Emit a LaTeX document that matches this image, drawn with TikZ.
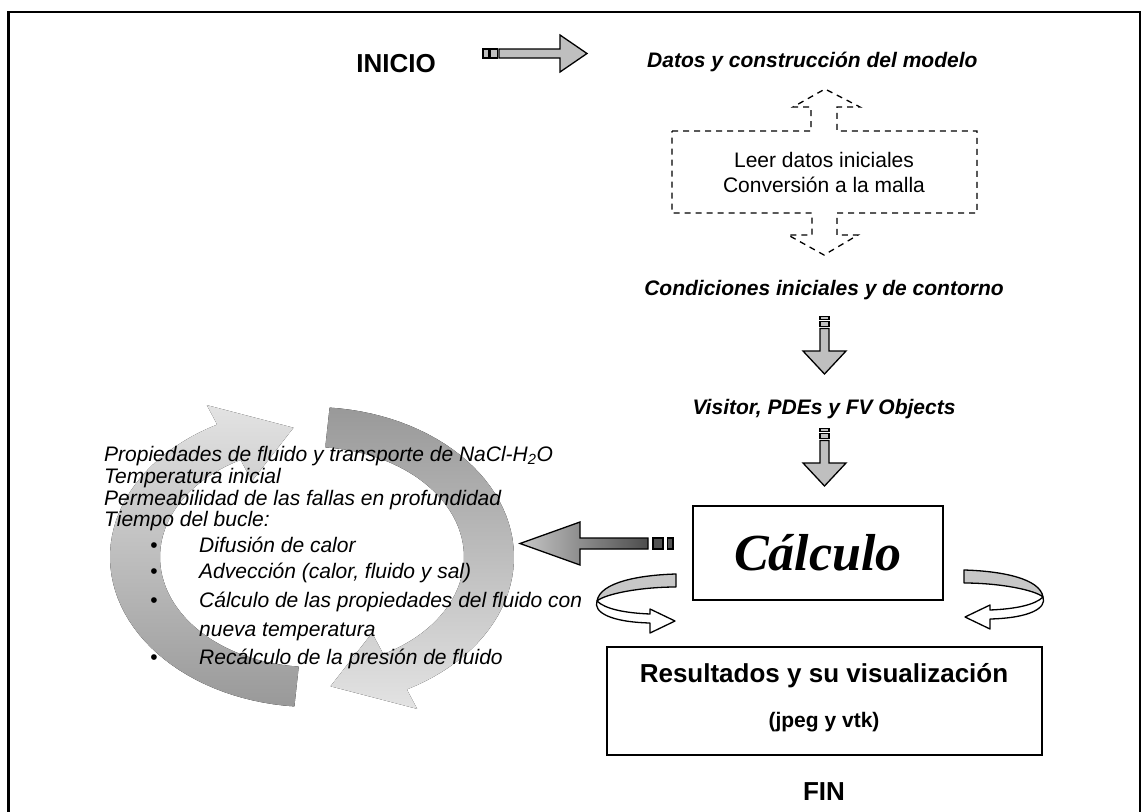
\documentclass[tikz,border=0pt]{standalone}
\usepackage{fontspec}
\setmainfont{Liberation Sans}
\newfontfamily\timesfont{Liberation Serif}
\newcommand\setfs[1]{\fontsize{#1}{#1}\selectfont}
\begin{document}
\begin{tikzpicture}[x=1pt,y=-1pt,
  blockarrow/.style={draw=black, line width=1.3pt, fill=black!25, line join=miter},
  curl/.style={draw=black, line width=1.3pt, line join=round},
  capt/.style={font=\setfs{21}\bfseries\itshape, inner sep=0pt, anchor=base},
  plain/.style={font=\setfs{21}, inner sep=0pt, anchor=base},
  title/.style={font=\setfs{26}\bfseries, inner sep=0pt, anchor=base},
  lefttxt/.style={font=\setfs{21}\itshape, inner sep=0pt, anchor=base west},
  dot/.style={font=\setfs{21}, inner sep=0pt, anchor=base},
  box/.style={draw=black, line width=1.7pt, inner sep=0pt}
]
\useasboundingbox (0,0) rectangle (1148,811);

% outer frame
\begin{scope}
  \clip (0,0) rectangle (1148,811);
  \draw[line width=2.6pt] (8.3,12) rectangle (1140,830);
\end{scope}

% ---------------- circular arrows behind the parameter list
\def\cx{312}
\def\cy{557}
% upper-right to bottom arrow
\fill[top color=black!40, bottom color=black!11]
  plot[domain=-85:62, samples=50] ({\cx+202*cos(\x)},{\cy+150*sin(\x)})
  -- ({\cx+224*cos(62)},{\cy+172*sin(62)})
  -- ({\cx+177*cos(84)},{\cy+130*sin(84)})
  -- ({\cx+128*cos(62)},{\cy+86*sin(62)})
  -- plot[domain=62:-85, samples=50] ({\cx+152*cos(\x)},{\cy+110*sin(\x)})
  -- cycle;
% bottom-left to top arrow
\fill[top color=black!11, bottom color=black!40]
  plot[domain=95:242, samples=50] ({\cx+202*cos(\x)},{\cy+150*sin(\x)})
  -- ({\cx+224*cos(242)},{\cy+172*sin(242)})
  -- ({\cx+177*cos(264)},{\cy+130*sin(264)})
  -- ({\cx+128*cos(242)},{\cy+86*sin(242)})
  -- plot[domain=242:95, samples=50] ({\cx+152*cos(\x)},{\cy+110*sin(\x)})
  -- cycle;

% ---------------- parameter list
\node[lefttxt] (p1) at (104,461) {Propiedades de fluido y transporte de NaCl-H\textsubscript{2}O};
\node[lefttxt] (p2) at (104,483) {Temperatura inicial};
\node[lefttxt] (p3) at (104,505) {Permeabilidad de las fallas en profundidad};
\node[lefttxt] (p4) at (104,526) {Tiempo del bucle:};
\node[dot] (d1) at (154,552) {•};
\node[lefttxt] (i1) at (199,552) {Difusión de calor};
\node[dot] (d2) at (154,578) {•};
\node[lefttxt] (i2) at (199,578) {Advección (calor, fluido y sal)};
\node[dot] (d3) at (154,607) {•};
\node[lefttxt] (i3) at (199,607) {Cálculo de las propiedades del fluido con};
\node[lefttxt] (i3b) at (199,636) {nueva temperatura};
\node[dot] (d4) at (154,664) {•};
\node[lefttxt] (i4) at (199,664) {Recálculo de la presión de fluido};

% ---------------- start
\node[title] (inicio) at (396,72) {INICIO};
\node[capt, anchor=base west] (datos) at (647,67) {Datos y construcción del modelo};
% arrow from INICIO
\draw[blockarrow] (483,49) rectangle (488.5,58);
\draw[blockarrow] (490,49) rectangle (497.5,58);
\draw[blockarrow] (499,49) -- (560,49) -- (560,35) -- (587,53.5) -- (560,72) -- (560,58) -- (499,58) -- cycle;

% dashed model box with its two arrows
\draw[line width=1.3pt, dash pattern=on 6pt off 5pt]
  (672,131) -- (811,131) -- (811,107) -- (793,107) -- (825,89) -- (860,107)
  -- (837,107) -- (837,131) -- (977,131) -- (977,213) -- (837,213) -- (837,235)
  -- (858,235) -- (824,255) -- (788,235) -- (812,235) -- (812,213) -- (672,213) -- cycle;
\node[plain] (leer) at (824,167) {Leer datos iniciales};
\node[plain] (conv) at (824,192) {Conversión a la malla};

\node[capt] (cond) at (824,295) {Condiciones iniciales y de contorno};

% down arrow 1
\draw[blockarrow] (820,316.5) rectangle (829,319.5);
\draw[blockarrow] (820,321.5) rectangle (829,326.5);
\draw[blockarrow] (820,328.5) -- (829,328.5) -- (829,351) -- (846,351) -- (824.5,374)
  -- (803,351) -- (820,351) -- cycle;

\node[capt] (visitor) at (824,414) {Visitor, PDEs y FV Objects};

% down arrow 2
\draw[blockarrow] (820,428.5) rectangle (829,431.5);
\draw[blockarrow] (820,433.5) rectangle (829,438.5);
\draw[blockarrow] (820,440.5) -- (829,440.5) -- (829,463) -- (846,463) -- (824.5,486)
  -- (803,463) -- (820,463) -- cycle;

% ---------------- computation box
\node[box, minimum width=250pt, minimum height=94pt] (calc) at (818,553) {};
\node[font=\timesfont\bfseries\itshape\setfs{52}, inner sep=0pt] (calctxt) at (calc.center) {Cálculo};

% shaded arrow towards the loop
\draw[line width=1.3pt, fill=black!68] (653,538) rectangle (663,549);
\draw[line width=1.3pt, fill=black!68] (667.5,538) rectangle (673,549);
\draw[line width=1.3pt, left color=black!22, right color=black!70, line join=miter]
  (648,538) -- (580,538) -- (580,522) -- (520,543.5) -- (580,565) -- (580,549) -- (648,549) -- cycle;

% curled arrows below the computation box
\newcommand\curlshape{%
  \draw[curl, fill=black!22] (964,570) .. controls (1000,571) and (1040,578) .. (1043,597)
    .. controls (1035,590) and (1000,583) .. (964,583) -- cycle;
  \draw[curl, fill=white] (1043,597) .. controls (1047,608) and (1030,618) .. (990,619)
    -- (990,629) -- (965,617) -- (990,605) -- (990,610)
    .. controls (1015,609) and (1035,605) .. (1043,597) -- cycle;}
\curlshape
\begin{scope}[shift={(1640,4)}, xscale=-1]
  \curlshape
\end{scope}

% ---------------- results
\node[box, minimum width=435pt, minimum height=108pt] (res) at (824.5,701) {};
\node[font=\setfs{26}\bfseries, inner sep=0pt, anchor=base] (restxt) at (824,682) {Resultados y su visualización};
\node[font=\setfs{21}\bfseries, inner sep=0pt, anchor=base] (fmt) at (824,727) {(jpeg y vtk)};

\node[title] (fin) at (824,800) {FIN};
\end{tikzpicture}
\end{document}
